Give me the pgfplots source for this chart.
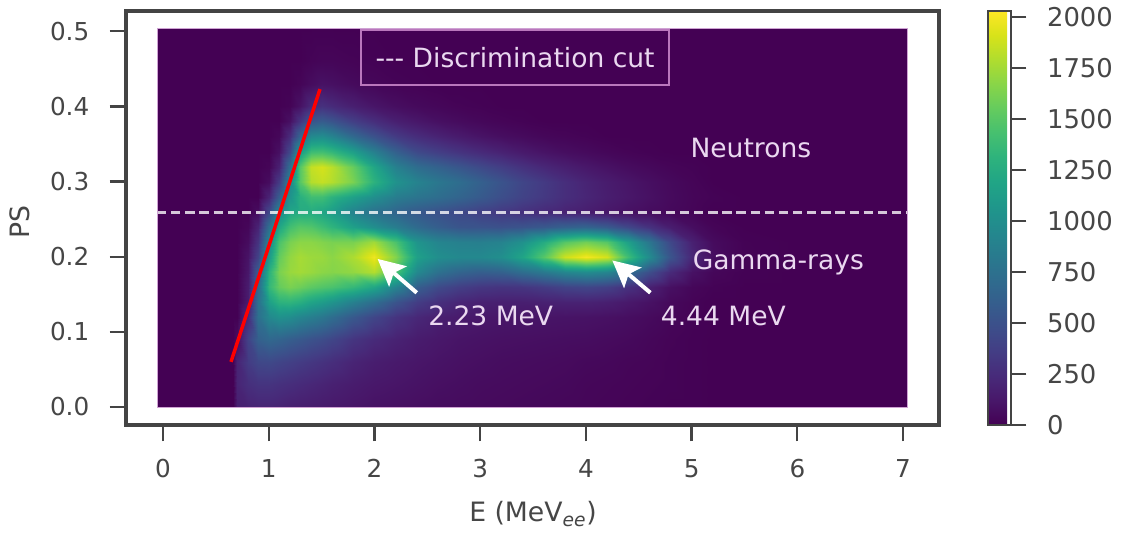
\documentclass[border=0pt]{standalone}
\usepackage{fontspec}
\setmainfont{DejaVu Sans}
\usepackage{pgfplots}
\usepackage{pgfplotstable}
\pgfplotsset{compat=1.18}
\usetikzlibrary{arrows.meta}
\definecolor{frame}{RGB}{68,68,68}
\definecolor{lbl}{RGB}{70,70,70}
\definecolor{anno}{RGB}{234,216,240}
\pgfplotstableread{
y -0.057 0.66 0.7 0.8 0.9 1.0 1.1 1.2 1.3 1.4 1.5 1.6 1.8 2.0 2.2 2.4 2.6 2.8 3.0 3.2 3.4 3.6 3.8 4.0 4.2 4.4 4.6 4.8 5.0 5.2 5.5 6.0 7.04
-0.001 0 0 170 190 200 200 190 170 160 150 140 130 110 90 80 70 60 55 50 45 40 35 30 25 20 15 10 5 5 0 0 0 0
0.03 0 0 200 270 300 300 280 260 240 220 200 180 150 125 110 95 80 70 60 55 50 45 40 30 25 20 15 10 5 0 0 0 0
0.06 0 0 200 350 430 440 410 380 350 320 290 260 200 160 135 115 100 85 75 65 60 55 50 40 35 25 20 10 5 0 0 0 0
0.09 0 0 60 400 620 680 650 600 560 510 470 420 310 240 190 150 125 105 95 85 80 75 70 65 55 45 30 15 5 0 0 0 0
0.12 0 0 0 250 750 950 1020 990 920 860 800 720 560 420 300 220 170 140 125 115 110 105 100 95 85 70 50 25 10 0 0 0 0
0.14 0 0 0 150 750 1150 1300 1320 1270 1180 1120 1050 880 720 520 360 270 210 180 170 170 180 190 190 170 130 90 40 15 0 0 0 0
0.16 0 0 0 150 700 1350 1550 1620 1580 1520 1480 1450 1350 1200 900 600 450 370 320 300 310 350 400 420 380 280 180 80 30 10 0 0 0
0.18 0 0 0 120 600 1300 1620 1720 1750 1720 1680 1660 1700 1800 1450 950 750 650 600 620 720 820 930 980 920 720 480 240 90 30 5 0 0
0.20 0 0 0 100 400 1100 1550 1700 1760 1730 1720 1680 1780 1980 1650 1150 1000 950 950 1000 1180 1500 1880 2000 1900 1400 980 530 220 70 10 0 0
0.22 0 0 0 60 300 950 1450 1620 1680 1680 1650 1620 1620 1750 1450 1050 920 880 870 900 1020 1250 1500 1600 1500 1150 800 440 180 55 8 0 0
0.24 0 0 0 30 200 750 1200 1420 1500 1480 1400 1320 1150 1000 850 700 600 530 520 500 520 560 620 650 570 430 290 160 70 20 0 0 0
0.26 0 0 0 0 60 450 950 1200 1250 1250 1200 1120 900 750 650 560 500 440 380 330 280 230 190 160 120 85 60 40 20 0 0 0 0
0.28 0 0 0 0 0 200 600 1050 1280 1400 1400 1300 1150 1000 850 780 720 650 570 480 400 330 260 210 160 120 85 50 25 10 0 0 0
0.30 0 0 0 0 0 60 350 950 1500 1800 1850 1800 1620 1300 1030 900 800 720 620 520 420 340 260 200 150 110 75 45 20 0 0 0 0
0.32 0 0 0 0 0 20 180 750 1500 1850 1900 1820 1560 1200 880 720 630 540 450 370 290 220 170 125 90 60 40 20 10 0 0 0 0
0.34 0 0 0 0 0 0 80 450 1100 1400 1420 1350 1150 880 620 450 370 300 240 190 140 100 70 50 30 15 5 0 0 0 0 0 0
0.36 0 0 0 0 0 0 30 250 650 950 980 900 680 500 340 250 190 140 100 70 50 30 20 10 0 0 0 0 0 0 0 0 0
0.38 0 0 0 0 0 0 0 80 300 520 580 520 370 260 170 120 80 55 35 20 10 0 0 0 0 0 0 0 0 0 0 0 0
0.40 0 0 0 0 0 0 0 15 90 230 280 240 170 110 70 45 30 15 8 0 0 0 0 0 0 0 0 0 0 0 0 0 0
0.43 0 0 0 0 0 0 0 0 20 60 90 80 50 30 15 8 0 0 0 0 0 0 0 0 0 0 0 0 0 0 0 0 0
0.46 0 0 0 0 0 0 0 0 0 15 25 25 15 8 0 0 0 0 0 0 0 0 0 0 0 0 0 0 0 0 0 0 0
0.504 0 0 0 0 0 0 0 0 0 0 0 0 0 0 0 0 0 0 0 0 0 0 0 0 0 0 0 0 0 0 0 0 0
}\histtable
\def\coords{}
\pgfplotsforeachungrouped \r in {0,...,21}{%
  \pgfplotstablegetelem{\r}{[index]0}\of\histtable
  \let\yv\pgfplotsretval
  \pgfplotsforeachungrouped \c in {1,...,33}{%
    \pgfplotstablegetcolumnnamebyindex{\c}\of\histtable\to\xn
    \pgfplotstablegetelem{\r}{[index]\c}\of\histtable
    \xdef\coords{\coords (\xn,\yv,\pgfplotsretval)}%
  }%
}
\begin{document}
\begin{tikzpicture}
\path[use as bounding box] (-94.5pt,-80.25pt) rectangle (746.25pt,318.75pt);
\begin{axis}[
  at={(0pt,0pt)}, anchor=south west,
  scale only axis, width=609.75pt, height=310.5pt,
  view={0}{90},
  xmin=-0.35, xmax=7.34, ymin=-0.024, ymax=0.527,
  xtick={0,...,7}, ytick={0,0.1,0.2,0.3,0.4,0.5},
  xtick pos=bottom, ytick pos=left,
  tick align=outside, major tick length=12pt,
  every tick/.style={draw=frame, line width=1.7pt},
  ticklabel style={font=\fontsize{18.5pt}{20pt}\selectfont, text=lbl},
  xticklabel style={yshift=-10pt},
  /pgf/number format/assume math mode=true,
  yticklabel style={xshift=-12pt, /pgf/number format/fixed, /pgf/number format/fixed zerofill, /pgf/number format/precision=1},
  xlabel={E (MeV\textsubscript{\itshape ee})},
  ylabel={PS},
  xlabel style={at={(axis description cs:0.5006,-0.215)}, anchor=center},
  ylabel style={at={(axis description cs:-0.131,0.49)}, anchor=center},
  label style={font=\fontsize{20pt}{21pt}\selectfont, text=lbl},
  colormap/viridis,
  point meta min=0, point meta max=2030,
  colorbar,
  colorbar style={
    at={(1.0603,1)}, anchor=north west,
    width=17.25pt, height=310.5pt,
    ytick={0,250,...,2000},
    ytick pos=right, tick align=outside,
    /pgf/number format/assume math mode=true,
    /pgf/number format/1000 sep={},
    /pgf/number format/fixed, scaled y ticks=false,
    yticklabel style={xshift=12pt, font=\fontsize{19.4pt}{21pt}\selectfont, text=lbl},
    major tick length=11.5pt,
    axis line style={draw=frame, line width=2pt},
    every tick/.style={draw=frame, line width=1.6pt},
  },
]
\edef\temp{\noexpand\addplot3[surf, shader=interp, mesh/cols=33] coordinates {\coords};}
\temp
\addplot3[white, opacity=.78, line width=1.9pt, dash pattern=on 7pt off 3.6pt] coordinates {(-0.057,0.259,2030) (7.04,0.259,2030)};
\addplot3[red, line width=2.6pt] coordinates {(0.643,0.06,2030) (1.485,0.423,2030)};
\draw[anno!75!violet, line width=.6pt] (axis cs:-0.057,-0.001,2030) rectangle (axis cs:7.04,0.504,2030);
\draw[white, line width=3pt, -{Stealth[length=20pt,width=20pt,inset=4pt]}] (axis cs:2.40,0.152,2030) -- (axis cs:2.03,0.197,2030);
\draw[white, line width=3pt, -{Stealth[length=20pt,width=20pt,inset=4pt]}] (axis cs:4.61,0.152,2030) -- (axis cs:4.25,0.195,2030);
\node[text=anno, font=\fontsize{19.9pt}{21pt}\selectfont] at (axis cs:5.56,0.344,2030) {Neutrons};
\node[text=anno, font=\fontsize{19.9pt}{21pt}\selectfont] at (axis cs:5.82,0.193,2030) {Gamma-rays};
\node[text=anno, font=\fontsize{19.9pt}{21pt}\selectfont] at (axis cs:3.10,0.121,2030) {2.23 MeV};
\node[text=anno, font=\fontsize{19.9pt}{21pt}\selectfont] at (axis cs:5.30,0.121,2030) {4.44 MeV};
\node[text=anno, draw=anno!55!violet, line width=1.3pt, font=\fontsize{19.9pt}{21pt}\selectfont, minimum width=231pt, minimum height=41pt, inner sep=0pt] at (axis cs:3.33,0.465,2030) {-{}-{}- Discrimination cut};
\end{axis}
\draw[frame, line width=2.3pt] (0pt,0pt) rectangle (609.75pt,310.5pt);
\end{tikzpicture}
\end{document}
